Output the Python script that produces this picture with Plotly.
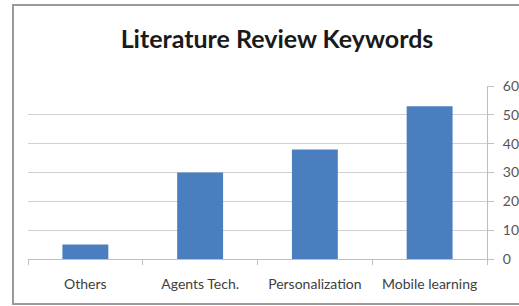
import plotly.graph_objects as go

categories = ["Others", "Agents Tech.", "Personalization", "Mobile learning"]
values = [5, 30, 38, 53]
y_ticks = [0, 10, 20, 30, 40, 50, 60]

W, H = 519, 306
L, R, T, B = 28, 32, 86, 47
pw, ph = W - L - R, H - T - B

def px_x(p):
    return (p - L) / pw

def px_y(p):
    return (H - B - p) / ph

fig = go.Figure(go.Bar(x=categories, y=values, marker=dict(color="#4A7EBF", line=dict(width=0)), width=0.4))

fig.update_layout(
    width=W, height=H,
    margin=dict(l=L, r=R, t=T, b=B),
    paper_bgcolor="white", plot_bgcolor="white",
    showlegend=False,
    title=dict(text="<b>Literature Review Keywords</b>", font=dict(family="Lato", size=25, color="#1a1a1a"),
               x=px_x(277), xref="paper", xanchor="center",
               y=1 - 39 / H, yref="container", yanchor="middle"),
    xaxis=dict(showgrid=False, showline=True, linecolor="#bfbfbf", linewidth=1,
               ticks="outside", tickson="boundaries", ticklen=5, tickcolor="#bfbfbf",
               ticklabelstandoff=12,
               tickfont=dict(family="Lato", size=14, color="#404040")),
    yaxis=dict(side="right", range=[0, 60], tickvals=y_ticks, showgrid=True, gridcolor="#d0d0d0",
               showline=True, linecolor="#bfbfbf", ticks="outside", ticklen=6, tickcolor="#bfbfbf",
               ticklabelstandoff=6,
               tickfont=dict(family="Lato", size=14, color="#555555"),
               zeroline=False, automargin=False),
    shapes=[dict(type="rect", xref="paper", yref="paper",
                 x0=px_x(13), x1=px_x(530), y0=px_y(304), y1=px_y(5),
                 line=dict(color="#9a9a9a", width=2), fillcolor="rgba(0,0,0,0)", layer="below")],
)

fig.write_html("out.html", config={"displayModeBar": False},
               post_script="document.body.style.margin='0';document.body.style.overflow='hidden';")
